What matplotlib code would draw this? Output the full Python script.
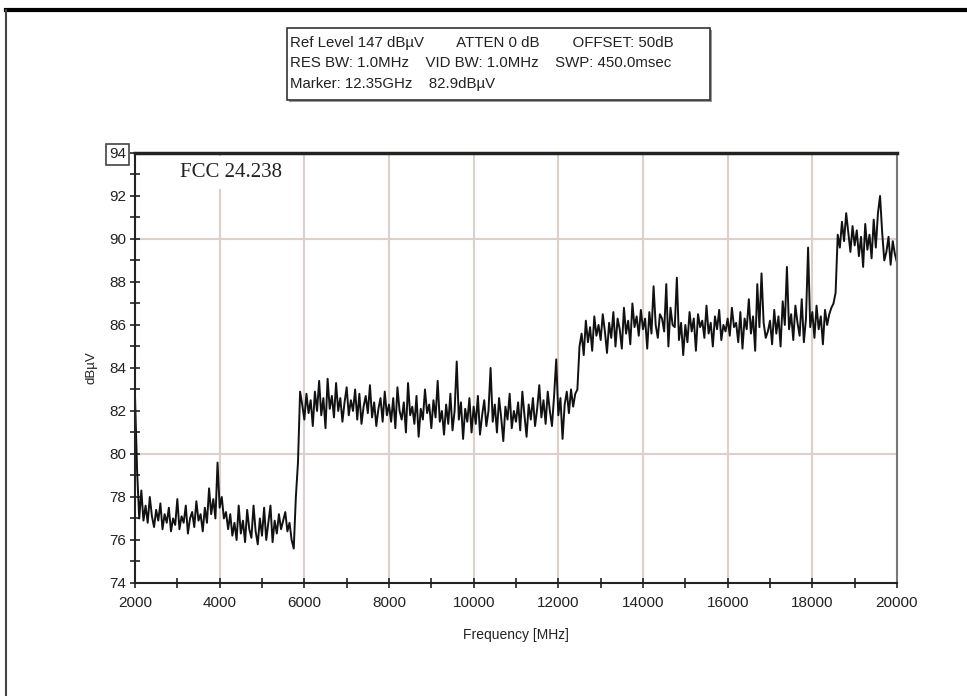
import numpy as np
import matplotlib.pyplot as plt
from matplotlib.patches import Rectangle
from matplotlib.lines import Line2D

plt.rcParams['font.family'] = ['Liberation Sans', 'DejaVu Sans']

# frequency grid, 50 MHz steps from 2000 to 20000 MHz
f_start = 2000
f_step = 50

# trace values (dBuV), one row per 1000 MHz
lvl_2000 = [82.7, 79.2, 77.0, 78.3, 76.9, 77.6, 76.8, 78.0, 77.1, 76.6, 77.4, 76.9, 77.7, 76.5, 77.2, 76.8, 77.5, 76.4, 77.0, 76.7]
lvl_3000 = [77.9, 76.5, 77.1, 76.8, 77.6, 76.3, 77.0, 77.3, 76.6, 77.8, 76.9, 77.2, 76.4, 77.5, 76.8, 78.4, 77.2, 77.9, 77.0, 79.6]
lvl_4000 = [77.5, 78.0, 77.0, 77.3, 76.5, 77.2, 76.2, 76.8, 76.0, 77.6, 76.3, 76.9, 75.9, 77.4, 76.5, 76.1, 77.6, 76.4, 75.8, 77.0]
lvl_5000 = [76.2, 77.5, 76.0, 76.8, 77.6, 75.9, 76.9, 76.3, 77.2, 76.5, 76.9, 77.3, 76.4, 76.8, 76.0, 75.6, 78.0, 79.6, 82.9, 82.3]
lvl_6000 = [81.6, 82.8, 81.9, 82.5, 81.3, 82.9, 82.0, 83.4, 81.8, 82.6, 81.2, 83.5, 82.1, 82.7, 81.7, 83.3, 82.0, 82.6, 81.5, 82.4]
lvl_7000 = [83.1, 81.8, 82.5, 82.0, 83.0, 81.6, 82.8, 81.4, 82.2, 82.7, 81.9, 83.2, 81.7, 82.4, 81.3, 82.1, 82.6, 81.5, 82.9, 81.8]
lvl_8000 = [82.3, 81.5, 82.6, 81.2, 83.1, 82.0, 81.6, 82.4, 81.0, 83.3, 81.8, 82.2, 81.4, 82.7, 80.8, 82.1, 81.6, 83.0, 81.9, 82.3]
lvl_9000 = [81.2, 82.5, 81.7, 83.4, 81.5, 82.0, 80.9, 82.3, 81.4, 82.8, 81.1, 82.0, 84.3, 81.6, 82.4, 80.7, 82.1, 81.5, 82.6, 81.0]
lvl_10000 = [82.2, 81.4, 82.7, 80.9, 81.8, 82.5, 81.3, 82.0, 84.0, 81.5, 82.3, 81.0, 82.6, 81.7, 80.6, 82.2, 81.6, 82.8, 81.2, 82.0]
lvl_11000 = [81.5, 82.4, 81.1, 82.9, 81.8, 80.8, 82.3, 81.6, 82.6, 81.3, 82.1, 83.2, 81.7, 82.5, 81.4, 82.9, 82.0, 81.3, 82.7, 84.4]
lvl_12000 = [81.8, 82.6, 80.7, 82.3, 82.9, 81.9, 83.0, 82.2, 82.8, 83.0, 85.0, 85.6, 84.6, 86.2, 85.2, 85.9, 84.8, 86.4, 85.5, 86.0]
lvl_13000 = [85.3, 86.5, 85.7, 84.7, 86.1, 85.4, 86.6, 85.0, 86.3, 85.8, 84.9, 86.8, 85.6, 86.2, 85.1, 87.0, 85.9, 86.4, 85.5, 86.7]
lvl_14000 = [85.8, 86.3, 84.9, 86.6, 85.6, 87.8, 86.0, 85.4, 86.5, 86.3, 85.7, 87.9, 85.0, 86.8, 86.0, 85.9, 88.2, 85.3, 86.1, 84.6]
lvl_15000 = [86.0, 85.2, 86.6, 85.7, 86.3, 84.8, 86.5, 85.9, 86.2, 85.4, 86.9, 85.6, 86.1, 85.0, 86.4, 85.8, 86.7, 85.3, 86.0, 85.7]
lvl_16000 = [86.3, 85.5, 86.8, 85.9, 86.1, 85.2, 86.6, 84.9, 86.3, 85.8, 87.2, 85.6, 86.4, 84.8, 87.9, 85.9, 88.4, 86.1, 85.4, 85.7]
lvl_17000 = [86.2, 85.1, 86.7, 85.6, 86.4, 85.0, 87.1, 86.0, 88.7, 85.8, 86.5, 85.3, 86.9, 86.1, 85.5, 87.2, 85.2, 86.3, 89.6, 85.9]
lvl_18000 = [86.6, 85.4, 86.9, 85.8, 86.4, 85.1, 86.7, 86.0, 86.5, 86.8, 87.0, 87.5, 90.2, 89.6, 90.8, 89.9, 91.2, 90.3, 89.4, 90.6]
lvl_19000 = [89.7, 90.4, 89.2, 90.1, 88.7, 90.7, 89.5, 90.2, 89.1, 90.9, 89.6, 91.2, 92.0, 90.3, 89.0, 89.4, 90.1, 88.8, 89.9, 89.3]
lvl_20000 = [88.9]

levels = (lvl_2000 + lvl_3000 + lvl_4000 + lvl_5000 + lvl_6000 + lvl_7000 + lvl_8000
          + lvl_9000 + lvl_10000 + lvl_11000 + lvl_12000 + lvl_13000 + lvl_14000
          + lvl_15000 + lvl_16000 + lvl_17000 + lvl_18000 + lvl_19000 + lvl_20000)
freq = f_start + f_step * np.arange(len(levels))

x_ticks = [2000, 4000, 6000, 8000, 10000, 12000, 14000, 16000, 18000, 20000]
y_ticks = [74, 76, 78, 80, 82, 84, 86, 88, 90, 92, 94]
info_lines = ['Ref Level 147 dB\u00b5V        ATTEN 0 dB        OFFSET: 50dB',
              'RES BW: 1.0MHz    VID BW: 1.0MHz    SWP: 450.0msec',
              'Marker: 12.35GHz    82.9dB\u00b5V']

fig = plt.figure(figsize=(9.67, 6.96), dpi=100)
ax = fig.add_axes([0.1396, 0.1624, 0.788, 0.6178])

grid_c = '#dcd0c8'
for xv in x_ticks[1:-1]:
    ax.axvline(xv, color=grid_c, lw=1.5, zorder=0)
for yv in [80, 90]:
    ax.axhline(yv, color=grid_c, lw=1.5, zorder=0)

ax.plot(freq, levels, color='#111111', lw=1.4, zorder=2)

ax.set_xlim(2000, 20000)
ax.set_ylim(74, 94)
ax.set_xticks(x_ticks)
ax.set_xticks(np.arange(3000, 20000, 2000), minor=True)
ax.set_yticks(y_ticks)
ax.set_yticks(np.arange(75, 94, 2), minor=True)
ax.tick_params(which='both', direction='inout', length=7, width=1.2, labelsize=11, colors='#222222')
ax.tick_params(axis='x', pad=6)
ax.tick_params(axis='y', pad=3)
for sp in ax.spines.values():
    sp.set_linewidth(1.5)
    sp.set_color('#222222')
ax.spines['top'].set_linewidth(2.5)
ax.spines['right'].set_color('#777777')

# boxed top label
top_lab = ax.get_yticklabels()[-1]
top_lab.set_bbox(dict(boxstyle='square,pad=0.2', fc='white', ec='#444444', lw=1.2))

ax.set_xlabel('Frequency [MHz]', fontsize=10, labelpad=13, color='#222222')
ax.set_ylabel('dB\u00b5V', fontsize=9.5, labelpad=8, color='#222222')

ax.text(3060, 93.1, 'FCC 24.238', family=['Liberation Serif', 'DejaVu Serif'], fontsize=15,
        va='center', ha='left', color='#222222', zorder=3,
        bbox=dict(boxstyle='square,pad=0.35', fc='white', ec='none'))

# info box above the plot
fig.patches.append(Rectangle((0.2988, 0.8533), 0.4374, 0.1035, transform=fig.transFigure,
                             fc='#999999', ec='none', zorder=0))
fig.patches.append(Rectangle((0.2968, 0.8563), 0.4374, 0.1035, transform=fig.transFigure,
                             fc='white', ec='#333333', lw=1.2, zorder=1))
for i, line in enumerate(info_lines):
    fig.text(0.2999, 0.9382 - i * 0.0294, line, fontsize=10.8, va='center', ha='left',
             color='#222222', zorder=2)

# outer frame (top and left edges)
fig.lines.append(Line2D([0.006, 1.0], [0.9856, 0.9856], transform=fig.transFigure,
                        color='black', lw=3))
fig.lines.append(Line2D([0.006, 0.006], [0.0, 0.9856], transform=fig.transFigure,
                        color='#444444', lw=1.5))

fig.savefig('out.png', dpi=100)
